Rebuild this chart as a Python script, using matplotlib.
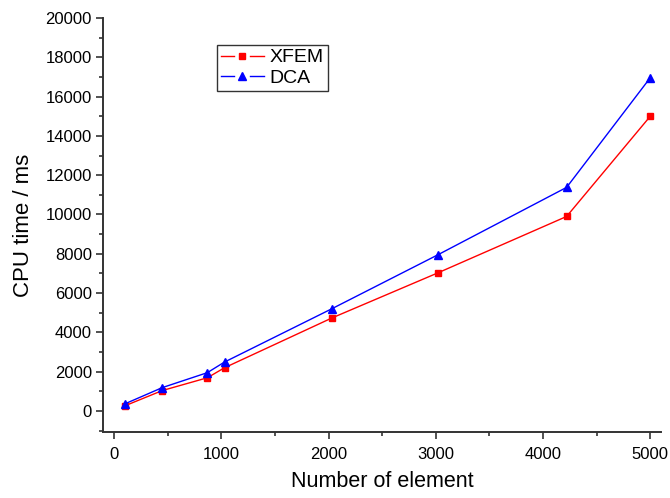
import matplotlib
matplotlib.use("Agg")
import matplotlib.pyplot as plt
from matplotlib.ticker import MultipleLocator
from matplotlib.legend_handler import HandlerLine2D
from matplotlib.lines import Line2D

plt.rcParams['font.family'] = ['Liberation Sans', 'DejaVu Sans']

elements = [100, 450, 870, 1030, 2030, 3020, 4220, 5000]
xfem = [260, 1040, 1690, 2200, 4730, 7030, 9900, 15000]
dca = [360, 1190, 1950, 2490, 5200, 7950, 11380, 16960]


class GapHandler(HandlerLine2D):
    def create_artists(self, legend, orig_handle, xdescent, ydescent,
                       width, height, fontsize, trans):
        y = (height - ydescent) / 2.0
        x0 = -xdescent
        w = width
        seg = 0.31 * w
        left = Line2D([x0, x0 + seg], [y, y], color=orig_handle.get_color(),
                      linewidth=orig_handle.get_linewidth())
        right = Line2D([x0 + w - seg, x0 + w], [y, y], color=orig_handle.get_color(),
                       linewidth=orig_handle.get_linewidth())
        mk = Line2D([x0 + w / 2], [y], linestyle='none', marker=orig_handle.get_marker(),
                    markersize=orig_handle.get_markersize(),
                    color=orig_handle.get_color())
        for a in (left, right, mk):
            a.set_transform(trans)
        return [left, right, mk]


fig = plt.figure(figsize=(6.70, 4.98), dpi=100)
ax = fig.add_axes([103/670, 66/498, 558/670, 414/498])

l1, = ax.plot(elements, xfem, color='red', marker='s', markersize=4.5, linewidth=1, label='XFEM')
l2, = ax.plot(elements, dca, color='blue', marker='^', markersize=5.5, linewidth=1, label='DCA')

ax.set_xlim(-103, 5100)
ax.set_ylim(-1070, 20000)
ax.xaxis.set_major_locator(MultipleLocator(1000))
ax.xaxis.set_minor_locator(MultipleLocator(500))
ax.yaxis.set_major_locator(MultipleLocator(2000))
ax.yaxis.set_minor_locator(MultipleLocator(1000))
ax.set_yticks(range(0, 20001, 2000))
ax.tick_params(which='major', direction='out', length=5, width=1.2, labelsize=12, color='#333333')
ax.tick_params(axis='x', which='major', pad=6)
ax.tick_params(axis='y', which='major', pad=3)
ax.tick_params(which='minor', direction='out', length=3, width=1.2, color='#333333')
for s in ['top', 'right']:
    ax.spines[s].set_visible(False)
for s in ['left', 'bottom']:
    ax.spines[s].set_linewidth(1.4)
    ax.spines[s].set_color('#333333')

ax.set_xlabel('Number of element', fontsize=15.5, labelpad=6)
ax.set_ylabel('CPU time / ms', fontsize=16, labelpad=8)

leg = ax.legend(handles=[l1, l2], loc='upper left',
                bbox_to_anchor=((217-103)/558, (432-45)/414),
                frameon=True, fancybox=False, fontsize=14, handlelength=2.2,
                borderpad=0.2, labelspacing=0.15, handletextpad=0.3, borderaxespad=0,
                handler_map={Line2D: GapHandler()})
leg.get_frame().set_edgecolor('black')
leg.get_frame().set_linewidth(1.0)

fig.savefig('out.png', dpi=100)
